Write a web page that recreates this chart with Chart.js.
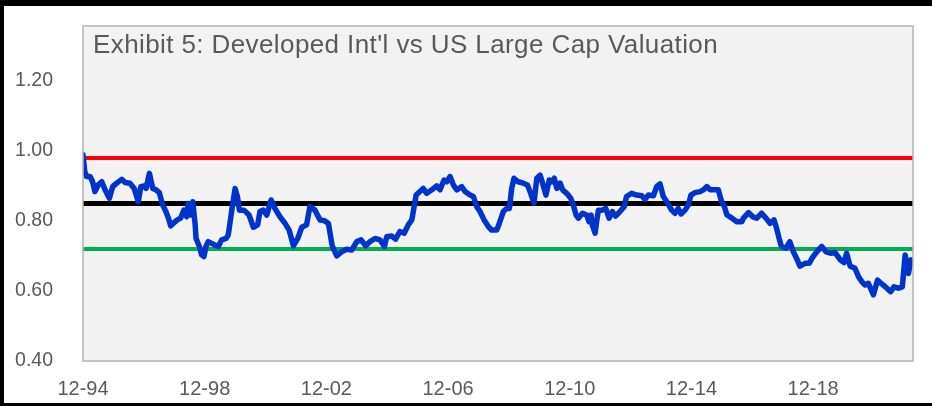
<!DOCTYPE html>
<html>
<head>
<meta charset="utf-8">
<script src="https://cdn.jsdelivr.net/npm/chart.js@4"></script>
<style>
  body { margin: 0; background: #fff; }
  canvas { display: block; }
</style>
</head>
<body>
<canvas id="chart" width="932" height="406"></canvas>
<script>
const chartTitle = "Exhibit 5: Developed Int'l vs US Large Cap Valuation";

// months since Dec 1994
const months = [
  0, 0.7, 1.4, 2.8, 3.8, 4.7, 6, 7.4, 8.7, 10.4, 11.7, 13.3, 15.3, 16.6, 18.5, 20.2, 21.8, 22.8, 24.1, 24.9,
  26.2, 27.5, 28.8, 30.1, 31.4, 32.7, 33.7, 34.6, 35.6, 37.2, 38.5, 39.8, 40.9, 41.5, 42.5, 43.3, 44.2, 44.6,
  45.9, 46.8, 47.7, 48.5, 49.4, 50.8, 52.1, 53.4, 54.7, 56.4, 57.3, 58.7, 60, 60.9, 61.7, 63.5,
  65.5, 67.2, 68.9, 69.8, 71.1, 72.5, 74.2, 75.7, 77.7, 79.7, 81.3, 83, 84.7, 86.3, 88.2, 89.5, 91.5, 93.5,
  95.2, 96.8, 98.3, 100.1, 102, 104, 106, 108, 109.7, 111.5, 113.2, 115.2, 117.2, 118.9, 119.8, 121.8, 123.3,
  125, 126.7, 128.3,
  129.7, 131.4, 132.9, 134.2, 135.6, 137.6, 139.5, 140.8, 142.4, 143.5, 144.8, 146.1, 147.4, 149.4, 150.7,
  152.7, 154, 155.3, 156.6, 158.2, 159.9, 161.2, 163.2, 164.2, 165.8, 167.1, 168.2, 169.1, 170, 171.7, 173.7,
  175.3, 176.6, 177.9, 179, 180.3, 181.3, 182.6, 183.9, 184.9, 185.9, 186.9, 188.2, 189.2, 190.8, 192.4,
  193.4, 194.5,
  195.4, 197, 198.7, 199.6, 200.4, 200.9, 202, 202.6, 203.3, 204.8, 206.2, 207.5, 208.8, 210.1, 211.8, 213.5,
  214.4, 216.4, 218.4, 220.4, 221.7, 223, 225, 226.3, 227.6, 228.9, 230.3, 232.2, 233.5, 234.8, 235.9, 237.5,
  238.8, 239.8, 241.4, 243.4, 244.7, 246.1, 247.4, 249.3, 250.6, 251.7, 253, 254, 256, 257.9, 259.9,
  260.5, 262.5, 264.2, 265.8, 267.7, 269.4, 271, 272.6, 273.6, 274.6, 275.5, 277.3, 278.8, 280.2, 281.5,
  282.8, 284.8, 286.5, 287.5, 289.4, 291.4, 293.1, 294.9, 296.6, 298.6, 300.2, 301.2, 302.6, 304.5, 305.9,
  307.2, 308.5, 309.8, 311.8, 313.4, 315.1, 317.1, 318.6, 319.9, 321.6, 323.2, 324.3, 325.6, 326.6
];
const valuation = [
  0.989, 0.941, 0.927, 0.927, 0.912, 0.884, 0.903, 0.912, 0.889, 0.865, 0.898, 0.908, 0.919, 0.91, 0.908, 0.893, 0.855, 0.898, 0.9, 0.893,
  0.936, 0.893, 0.889, 0.881, 0.846, 0.827, 0.808, 0.786, 0.793, 0.803, 0.808, 0.831, 0.812, 0.85, 0.817, 0.855, 0.793, 0.75,
  0.727, 0.703, 0.698, 0.727, 0.741, 0.736, 0.731, 0.727, 0.746, 0.75, 0.76, 0.831, 0.893, 0.87, 0.831, 0.831,
  0.817, 0.782, 0.789, 0.827, 0.831, 0.817, 0.86, 0.836, 0.812, 0.793, 0.774, 0.729, 0.75, 0.782, 0.789, 0.841, 0.831, 0.803,
  0.801, 0.793, 0.729, 0.7, 0.712, 0.719, 0.717, 0.741, 0.746, 0.729, 0.741, 0.75, 0.746, 0.727, 0.755, 0.757, 0.748,
  0.77, 0.765, 0.789,
  0.803, 0.874, 0.884, 0.893, 0.879, 0.889, 0.9, 0.889, 0.917, 0.912, 0.927, 0.903, 0.889, 0.898, 0.884,
  0.874, 0.87, 0.841, 0.827, 0.803, 0.784, 0.774, 0.774, 0.793, 0.827, 0.836, 0.836, 0.893, 0.922, 0.912, 0.908,
  0.903, 0.879, 0.851, 0.922, 0.931, 0.908, 0.874, 0.917, 0.912, 0.922, 0.893, 0.908, 0.889, 0.879, 0.865,
  0.846, 0.817,
  0.808, 0.822, 0.817, 0.798, 0.817, 0.789, 0.765, 0.798, 0.831, 0.831, 0.836, 0.808, 0.827, 0.814, 0.827, 0.841,
  0.87, 0.879, 0.874, 0.872, 0.862, 0.874, 0.872, 0.898, 0.906, 0.87, 0.855, 0.831, 0.822, 0.836, 0.82, 0.831,
  0.846, 0.874, 0.881, 0.884, 0.889, 0.898, 0.889, 0.889, 0.889, 0.86, 0.841, 0.817, 0.808, 0.798, 0.798,
  0.808, 0.824, 0.812, 0.808, 0.822, 0.808, 0.793, 0.803, 0.779, 0.75, 0.727, 0.722, 0.741, 0.712, 0.693,
  0.671, 0.679, 0.679, 0.693, 0.712, 0.727, 0.712, 0.708, 0.71, 0.69, 0.681, 0.708, 0.671, 0.665, 0.641,
  0.627, 0.617, 0.622, 0.589, 0.631, 0.62, 0.608, 0.598, 0.612, 0.608, 0.612, 0.703, 0.65, 0.689
];

// reference levels: +1 sd, average, -1 sd
const upperBand = 0.98;
const average = 0.85;
const lowerBand = 0.72;

const xTickMonths = [0, 48, 96, 144, 192, 240, 288];
const xTickLabels = ["12-94", "12-98", "12-02", "12-06", "12-10", "12-14", "12-18"];
const yTickValues = [0.4, 0.6, 0.8, 1.0, 1.2];

const xMax = 327.4;
const FONT = "Arial, 'Liberation Sans', sans-serif";
const GREY = "#595959";

function flatLine(v) {
  return [{ x: 0, y: v }, { x: xMax, y: v }];
}

const frame = {
  id: "frame",
  beforeDraw(chart) {
    const c = chart.ctx, a = chart.chartArea;
    c.save();
    c.fillStyle = "#fff";
    c.fillRect(0, 0, chart.width, chart.height);
    c.fillStyle = "#000";
    c.fillRect(0, 0, chart.width, 6);
    c.fillRect(0, 0, 4, chart.height);
    c.fillRect(0, chart.height - 3, chart.width, 3);
    c.fillStyle = "#f2f2f2";
    c.fillRect(a.left, a.top, a.right - a.left, a.bottom - a.top);
    c.restore();
  },
  afterDraw(chart) {
    const c = chart.ctx, a = chart.chartArea;
    c.save();
    c.strokeStyle = "#b4b4b4";
    c.lineWidth = 1.5;
    c.strokeRect(a.left, a.top, a.right - a.left, a.bottom - a.top);
    c.fillStyle = GREY;
    c.font = "26px " + FONT;
    c.letterSpacing = "0.4px";
    c.textBaseline = "alphabetic";
    c.fillText(chartTitle, a.left + 10, a.top + 27);
    c.restore();
  }
};

new Chart(document.getElementById("chart"), {
  type: "line",
  data: {
    datasets: [
      { data: months.map((m, i) => ({ x: m, y: valuation[i] })), borderColor: "#0033cc", borderWidth: 5.5,
        borderJoinStyle: "round", borderCapStyle: "round", pointRadius: 0, tension: 0, order: 0 },
      { data: flatLine(upperBand), borderColor: "#ff0000", borderWidth: 4, pointRadius: 0, order: 1 },
      { data: flatLine(average), borderColor: "#000000", borderWidth: 5, pointRadius: 0, order: 1 },
      { data: flatLine(lowerBand), borderColor: "#00b050", borderWidth: 4, pointRadius: 0, order: 1 }
    ]
  },
  options: {
    responsive: false,
    animation: false,
    layout: { padding: { top: 26, right: 19, left: 0, bottom: 0 } },
    plugins: { legend: { display: false }, tooltip: { enabled: false } },
    scales: {
      x: {
        type: "linear", min: 0, max: xMax,
        grid: { display: false }, border: { display: false },
        afterBuildTicks: s => { s.ticks = xTickMonths.map(v => ({ value: v })); },
        afterFit: s => { s.height = 45; s.paddingLeft = 0; s.paddingRight = 0; },
        ticks: {
          padding: 8, color: GREY, font: { family: FONT, size: 20 }, maxRotation: 0, autoSkip: false,
          callback: v => xTickLabels[xTickMonths.indexOf(v)]
        }
      },
      y: {
        min: 0.4, max: 1.357,
        grid: { display: false }, border: { display: false },
        afterBuildTicks: s => { s.ticks = yTickValues.map(v => ({ value: v })); },
        afterFit: s => { s.width = 83; s.paddingTop = 0; s.paddingBottom = 0; },
        ticks: {
          padding: 22, color: GREY, font: { family: FONT, size: 19.5 },
          callback: v => v.toFixed(2)
        }
      }
    }
  },
  plugins: [frame]
});
</script>
</body>
</html>
